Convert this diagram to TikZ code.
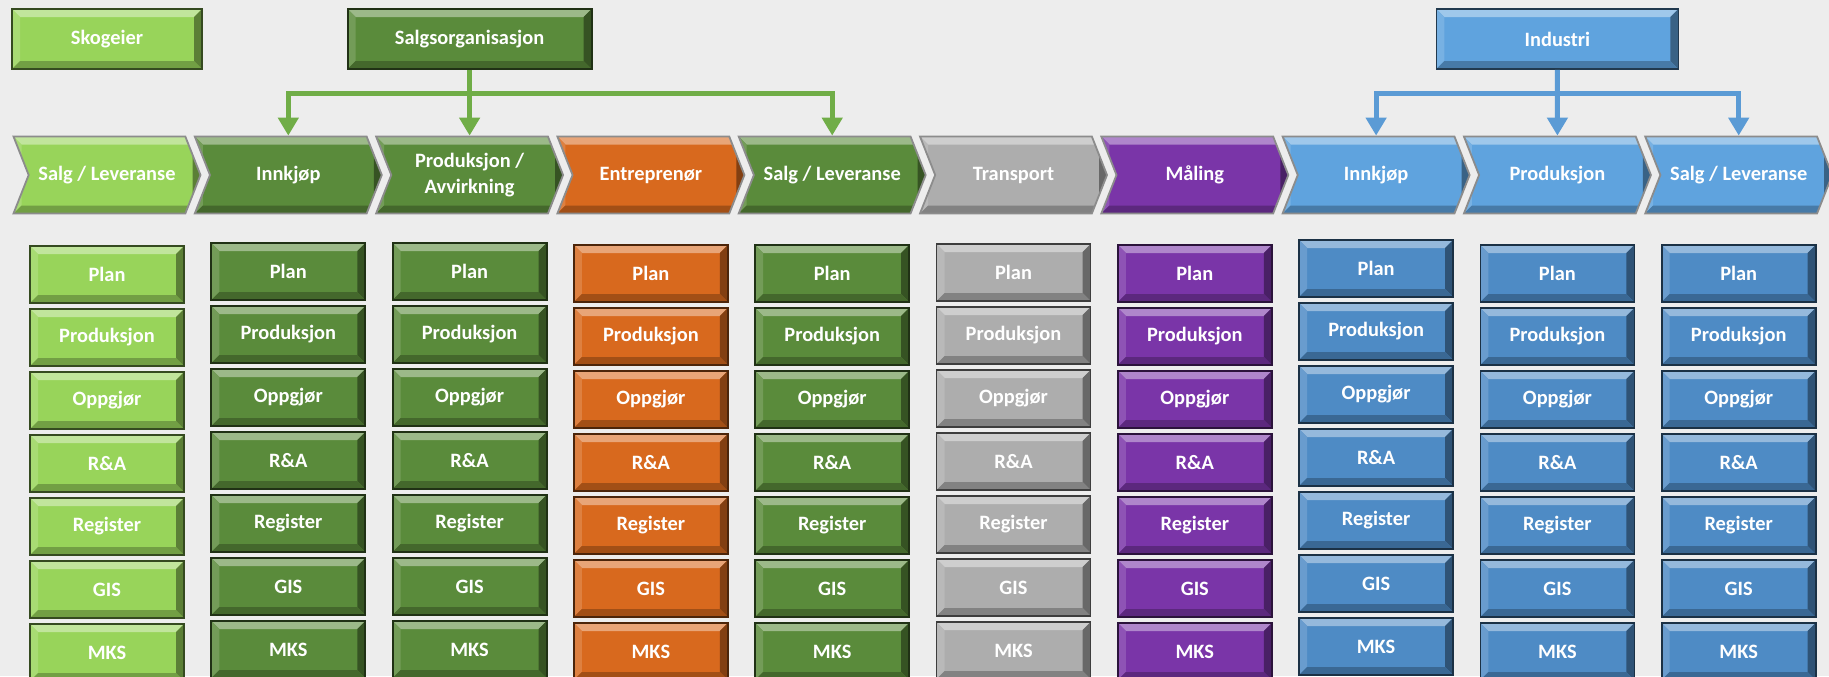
\documentclass[tikz,border=0pt]{standalone}
\usepackage{fontspec}
\setmainfont{Carlito}
\usetikzlibrary{arrows.meta,shapes.symbols}

\definecolor{bakgrunn}{HTML}{EDEDED}
\definecolor{lysgronn}{HTML}{98D45A}
\definecolor{morkgronn}{HTML}{5A8B3B}
\definecolor{oransje}{HTML}{D8691E}
\definecolor{gra}{HTML}{ADADAD}
\definecolor{lilla}{HTML}{7A35A8}
\definecolor{bla}{HTML}{5FA3DE}
\definecolor{morkbla}{HTML}{4E8BC5}
\definecolor{pilgronn}{HTML}{70AD47}
\definecolor{pilbla}{HTML}{5B9BD5}

\tikzset{
	bevel/.style={fill=#1, draw=#1!35!black, line width=0.9pt,
		path picture={
			\fill[#1!60!white] (path picture bounding box.north west) -- (path picture bounding box.north east)
				-- ([shift={(-4pt,-4pt)}]path picture bounding box.north east) -- ([shift={(4pt,-4pt)}]path picture bounding box.north west) -- cycle;
			\fill[#1!85!white] (path picture bounding box.north west) -- ([shift={(4pt,-4pt)}]path picture bounding box.north west)
				-- ([shift={(4pt,4pt)}]path picture bounding box.south west) -- (path picture bounding box.south west) -- cycle;
			\fill[#1!60!black] (path picture bounding box.north east) -- ([shift={(-4pt,-4pt)}]path picture bounding box.north east)
				-- ([shift={(-4pt,4pt)}]path picture bounding box.south east) -- (path picture bounding box.south east) -- cycle;
			\fill[#1!75!black] (path picture bounding box.south west) -- ([shift={(4pt,4pt)}]path picture bounding box.south west)
				-- ([shift={(-4pt,4pt)}]path picture bounding box.south east) -- (path picture bounding box.south east) -- cycle;
		}},
	tekst/.style={text=white, font=\bfseries\fontsize{10.2}{13}\selectfont, align=center, inner sep=0pt},
	boks/.style={bevel=#1, tekst, rectangle, minimum width=77pt, minimum height=28.5pt},
	fase/.style={bevel=#1, draw=black!45, tekst, signal, signal from=west, signal to=east,
		signal pointer angle=137, minimum width=93.5pt, minimum height=38.5pt},
	pil/.style={draw=#1, line width=2.5pt, -{Triangle[width=10pt,length=9pt]}}
}

\begin{document}
\begin{tikzpicture}[x=0.5pt,y=-0.5pt]
	\path[use as bounding box, fill=bakgrunn] (0,0) rectangle (1829,676);

	% verdikjeden med underliggende bokser
	\foreach \navn/\farge/\underfarge/\dy [count=\i from 0] in {
			{Salg / Leveranse}/lysgronn/lysgronn/0,
			Innkjøp/morkgronn/morkgronn/-3,
			{Produksjon /\\Avvirkning}/morkgronn/morkgronn/-3,
			Entreprenør/oransje/oransje/-1,
			{Salg / Leveranse}/morkgronn/morkgronn/-1,
			Transport/gra/gra/-2,
			Måling/lilla/lilla/-1,
			Innkjøp/bla/morkbla/-6,
			Produksjon/bla/morkbla/-1,
			{Salg / Leveranse}/bla/morkbla/-1}{
		\node[fase=\farge] (fase\i) at ({107+181.3*\i},175) {\navn};
		\foreach \oppgave [count=\j from 0] in {Plan,Produksjon,Oppgjør,R\&A,Register,GIS,MKS}
			\node[boks=\underfarge] (b\i-\j) at ({107+181.3*\i},{274.5+63*\j+\dy}) {\oppgave};
	}

	% aktører
	\node[boks=lysgronn, minimum width=95pt, minimum height=30pt] (skogeier) at (107,39) {Skogeier};
	\node[boks=morkgronn, minimum width=122pt, minimum height=30pt] (salgsorg) at (469.6,39) {Salgsorganisasjon};
	\node[boks=bla, minimum width=121pt, minimum height=30pt] (industri) at (1557.4,39) {Industri};

	\coordinate (gknute) at (469.6,93);
	\coordinate (bknute) at (1557.4,93);
	\draw[pil=pilgronn] (salgsorg.south) -- (fase2.north);
	\draw[pil=pilgronn] (gknute) -| (fase1.north);
	\draw[pil=pilgronn] (gknute) -| (fase4.north);
	\draw[pil=pilbla] (industri.south) -- (fase8.north);
	\draw[pil=pilbla] (bknute) -| (fase7.north);
	\draw[pil=pilbla] (bknute) -| (fase9.north);
\end{tikzpicture}
\end{document}
